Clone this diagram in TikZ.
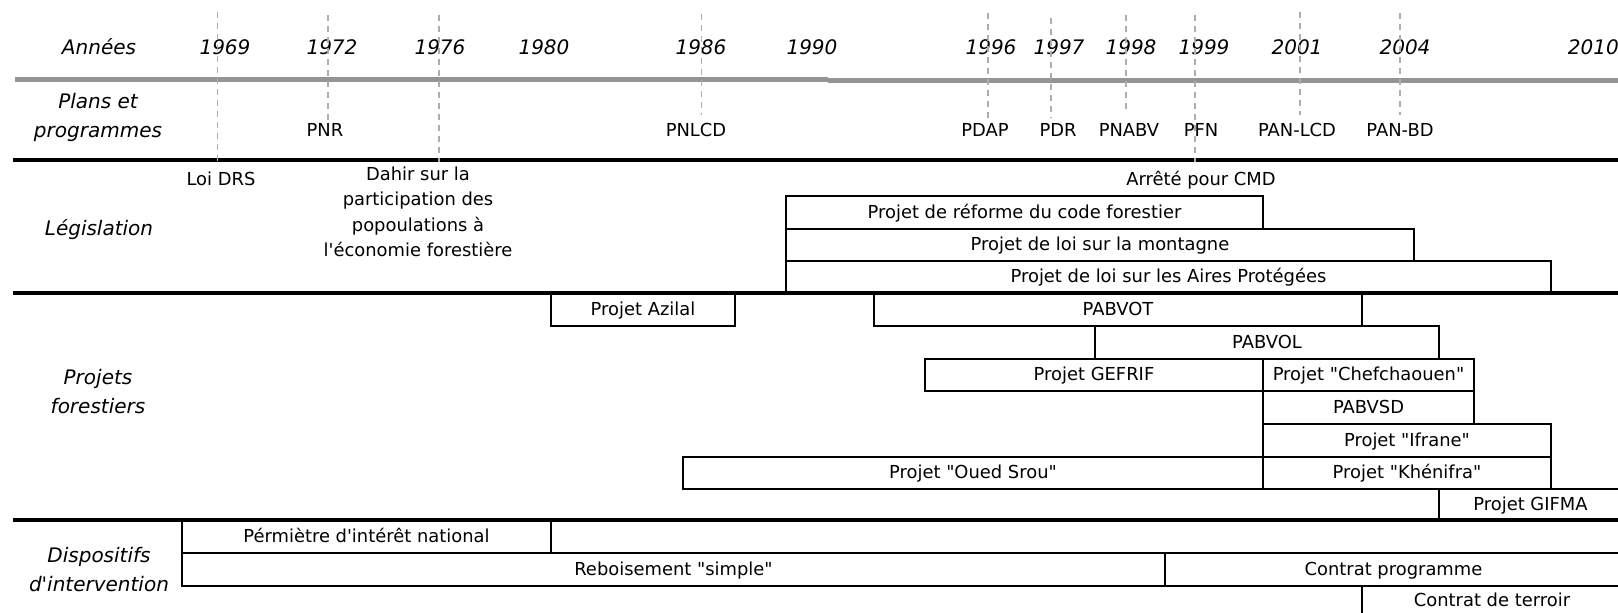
\documentclass[tikz,border=0pt]{standalone}
\usepackage{fontspec}
\setmainfont{DejaVu Sans}[Ligatures=TeXOff]
\definecolor{dashgray}{gray}{0.68}
\definecolor{rulegray}{gray}{0.58}
\newcommand\tlbox[6]{%
  \draw[boxl] (#2,#3) rectangle (#4,#5);
  \node[txt] (#1) at ({(#2+#4)/2},{(#3+#5)/2+5.5}) {#6};}
\begin{document}
\begin{tikzpicture}[x=1pt,y=-1pt,
  lab/.style={font=\fontsize{20}{24}\selectfont\itshape, anchor=base, inner sep=0pt},
  txt/.style={font=\fontsize{17.9}{21}\selectfont, anchor=base, inner sep=0pt},
  sect/.style={line width=4.5pt, black},
  boxl/.style={line width=1.8pt, black},
  boxthick/.style={line width=2.8pt, black},
  tick/.style={line width=1.5pt, dashgray, dash pattern=on 6pt off 5pt},
]
\useasboundingbox (0,0) rectangle (1618,613);
\clip (0,0) rectangle (1618,613);
\fill[white] (0,0) rectangle (1618,613);

% ---------- row labels ----------
\node[lab] (annees) at (99,54.5) {Années};
\node[lab] (plans1) at (98,108) {Plans et};
\node[lab] (plans2) at (98,137) {programmes};
\node[lab] (legis) at (99,235) {Législation};
\node[lab] (proj1) at (98,384) {Projets};
\node[lab] (proj2) at (98,413) {forestiers};
\node[lab] (disp1) at (99,562) {Dispositifs};
\node[lab] (disp2) at (99,591) {d'intervention};

% ---------- years ----------
\node[lab] (y1969) at (225,54.5) {1969};
\node[lab] (y1972) at (332,54.5) {1972};
\node[lab] (y1976) at (440,54.5) {1976};
\node[lab] (y1980) at (544,54.5) {1980};
\node[lab] (y1986) at (701,54.5) {1986};
\node[lab] (y1990) at (812,54.5) {1990};
\node[lab] (y1996) at (991,54.5) {1996};
\node[lab] (y1997) at (1059,54.5) {1997};
\node[lab] (y1998) at (1131,54.5) {1998};
\node[lab] (y1999) at (1204,54.5) {1999};
\node[lab] (y2001) at (1297,54.5) {2001};
\node[lab] (y2004) at (1405,54.5) {2004};
\node[lab, anchor=base east] (y2010) at (1619,54.5) {2010};

% ---------- horizontal rules ----------
\draw[line width=5pt, rulegray] (15,79.3) -- (828,79.3);
\draw[line width=5pt, rulegray] (828,80.2) -- (1618,80.2);
\draw[sect] (13,160) -- (1618,160);
\draw[sect] (13,293) -- (1618,293);
\draw[sect] (13,520) -- (1618,520);

% ---------- plans et programmes ----------
\node[txt] (pnr) at (325,136.5) {PNR};
\node[txt] (pnlcd) at (696,136.5) {PNLCD};
\node[txt] (pdap) at (985,136.5) {PDAP};
\node[txt] (pdr) at (1058,136.5) {PDR};
\node[txt] (pnabv) at (1129,136.5) {PNABV};
\node[txt] (pfn) at (1201,136.5) {PFN};
\node[txt] (panlcd) at (1297,136.5) {PAN-LCD};
\node[txt] (panbd) at (1400,136.5) {PAN-BD};

% ---------- legislation ----------
\node[txt] (loidrs) at (221,185) {Loi DRS};
\node[txt] (dahir1) at (418,180) {Dahir sur la};
\node[txt] (dahir2) at (418,205.5) {participation des};
\node[txt] (dahir3) at (418,231) {popoulations à};
\node[txt] (dahir4) at (418,256.5) {l'économie forestière};
\node[txt] (arrete) at (1201,185) {Arrêté pour CMD};
\tlbox{reforme}{786}{196}{1263}{229}{Projet de réforme du code forestier}
\tlbox{montagne}{786}{229}{1414}{261}{Projet de loi sur la montagne}
\tlbox{aires}{786}{261}{1551}{293}{Projet de loi sur les Aires Protégées}

% ---------- projets forestiers ----------
\tlbox{azilal}{551}{293}{735}{326}{Projet Azilal}
\tlbox{pabvot}{874}{293}{1362}{326}{PABVOT}
\tlbox{pabvol}{1095}{326}{1439}{359}{PABVOL}
\tlbox{gefrif}{925}{359}{1263}{391}{Projet GEFRIF}
\tlbox{chef}{1263}{359}{1474}{391}{Projet "Chefchaouen"}
\tlbox{pabvsd}{1263}{391}{1474}{424}{PABVSD}
\tlbox{ifrane}{1263}{424}{1551}{457}{Projet "Ifrane"}
\tlbox{oued}{683}{457}{1263}{489}{Projet "Oued Srou"}
\tlbox{khen}{1263}{457}{1551}{489}{Projet "Khénifra"}
\tlbox{gifma}{1439}{489}{1622}{520}{Projet GIFMA}
\draw[boxthick] (925,359) -- (1474,359);
\draw[boxthick] (1263,424) -- (1551,424);
\draw[sect] (13,293) -- (1618,293);
\draw[sect] (13,520) -- (1618,520);

% ---------- dispositifs ----------
\tlbox{perim}{182}{520}{551}{553}{Pérmiètre d'intérêt national}
\draw[boxl] (551,520) rectangle (1622,553);
\tlbox{rebois}{182}{553}{1165}{586}{Reboisement "simple"}
\tlbox{contratp}{1165}{553}{1622}{586}{Contrat programme}
\tlbox{terroir}{1362}{586}{1622}{616}{Contrat de terroir}
\draw[boxthick] (182,586) -- (1618,586);
\draw[sect] (13,520) -- (1618,520);

% ---------- year ticks ----------
\draw[tick] (217.5,12) -- (217.5,162);
\draw[tick] (328,15) -- (328,123);
\draw[tick] (439,15) -- (439,162);
\draw[tick] (701.5,14) -- (701.5,115);
\draw[tick] (988,13) -- (988,118);
\draw[tick] (1051,18) -- (1051,118);
\draw[tick] (1126,15) -- (1126,113);
\draw[tick] (1195,15) -- (1195,162);
\draw[tick] (1300,12) -- (1300,115);
\draw[tick] (1400,13) -- (1400,115);
\end{tikzpicture}
\end{document}
